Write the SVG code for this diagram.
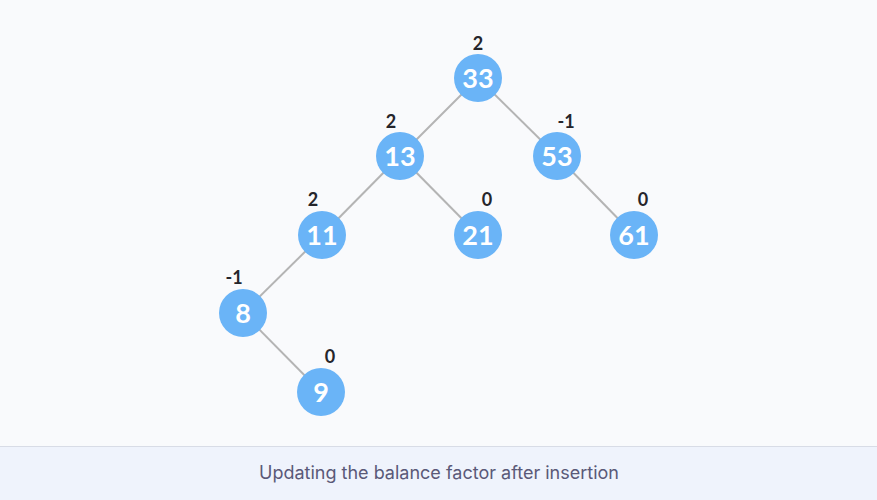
<svg xmlns="http://www.w3.org/2000/svg" width="877" height="500" viewBox="0 0 877 500">
<style>
.node circle{fill:#6ab4f7}
.node .v{font-family:Lato,"Liberation Sans",sans-serif;font-weight:bold;font-size:27px;fill:#fff;text-anchor:middle}
.node .bf{font-family:Lato,"Liberation Sans",sans-serif;font-weight:bold;font-size:18px;fill:#25252b;text-anchor:middle}
.edges line{stroke:#b4b4b4;stroke-width:2}
</style>
<rect width="877" height="500" fill="#f9fafc"/>
<rect y="446" width="877" height="54" fill="#eff3fc"/>
<line x1="0" y1="446.5" x2="877" y2="446.5" stroke="#d8dce6"/>
<text x="439" y="479" font-family="Inter,'Open Sans',sans-serif" font-size="18" fill="#5a5978" text-anchor="middle">Updating the balance factor after insertion</text>
<g class="edges">
<line x1="478" y1="78" x2="400" y2="156"/>
<line x1="478" y1="78" x2="557" y2="156"/>
<line x1="400" y1="156" x2="322" y2="235"/>
<line x1="400" y1="156" x2="478" y2="235"/>
<line x1="557" y1="156" x2="634" y2="235"/>
<line x1="322" y1="235" x2="243" y2="313"/>
<line x1="243" y1="313" x2="321" y2="392"/>
</g>
<g id="n33" class="node"><circle cx="478" cy="78" r="24"/><text class="v" x="478" y="88">33</text><text class="bf" x="478" y="50">2</text></g>
<g id="n13" class="node"><circle cx="400" cy="156" r="24"/><text class="v" x="400" y="166">13</text><text class="bf" x="391" y="128">2</text></g>
<g id="n53" class="node"><circle cx="557" cy="156" r="24"/><text class="v" x="557" y="166">53</text><text class="bf" x="566" y="128">-1</text></g>
<g id="n11" class="node"><circle cx="322" cy="235" r="24"/><text class="v" x="322" y="245">11</text><text class="bf" x="313" y="206">2</text></g>
<g id="n21" class="node"><circle cx="478" cy="235" r="24"/><text class="v" x="478" y="245">21</text><text class="bf" x="487" y="206">0</text></g>
<g id="n61" class="node"><circle cx="634" cy="235" r="24"/><text class="v" x="634" y="245">61</text><text class="bf" x="643" y="206">0</text></g>
<g id="n8" class="node"><circle cx="243" cy="313" r="24"/><text class="v" x="243" y="323">8</text><text class="bf" x="234" y="284">-1</text></g>
<g id="n9" class="node"><circle cx="321" cy="392" r="24"/><text class="v" x="321" y="402">9</text><text class="bf" x="330" y="363">0</text></g>
</svg>
